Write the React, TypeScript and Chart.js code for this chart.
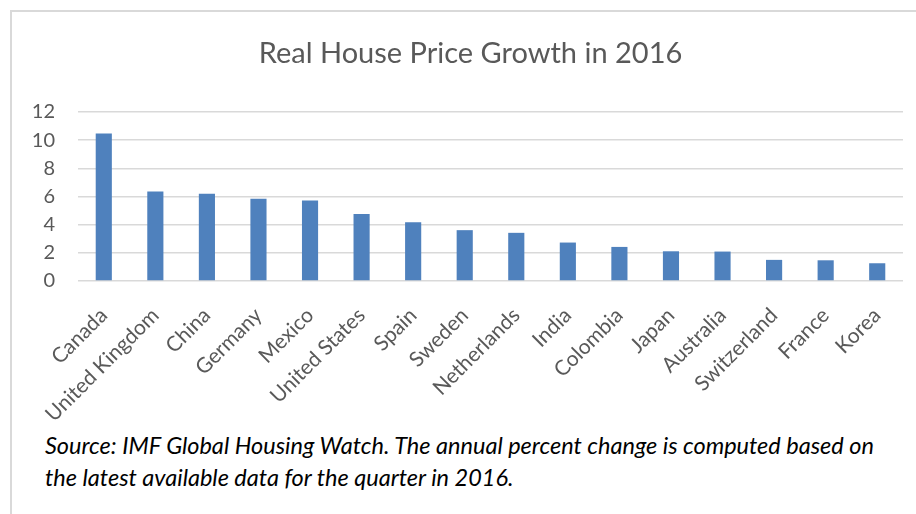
import React, { useEffect, useRef } from "react";
import { Chart, registerables } from "chart.js";

Chart.register(...registerables);

const categories = [
  "Canada", "United Kingdom", "China", "Germany", "Mexico", "United States",
  "Spain", "Sweden", "Netherlands", "India", "Colombia", "Japan",
  "Australia", "Switzerland", "France", "Korea",
];
const growth = [10.48, 6.36, 6.2, 5.84, 5.72, 4.75, 4.18, 3.61, 3.42, 2.73, 2.42, 2.11, 2.09, 1.5, 1.47, 1.26];
const yTicks = [0, 2, 4, 6, 8, 10, 12];
const titleText = "Real House Price Growth in 2016";
const sourceLines = [
  "Source: IMF Global Housing Watch. The annual percent change is computed based on",
  "the latest available data for the quarter in 2016.",
];

const FONT = "Lato, 'Open Sans', sans-serif";

export default function App() {
  const ref = useRef<HTMLCanvasElement | null>(null);

  useEffect(() => {
    document.body.style.margin = "0";
    const canvas = ref.current;
    if (!canvas) return;
    const chart = new Chart(canvas, {
      type: "bar",
      data: {
        labels: categories,
        datasets: [
          {
            data: growth,
            backgroundColor: "#4F81BD",
            borderWidth: 0,
            categoryPercentage: 1,
            barPercentage: 0.313,
          },
        ],
      },
      options: {
        animation: false,
        responsive: false,
        maintainAspectRatio: false,
        layout: { padding: { left: 0, right: 13, top: 112, bottom: 0 } },
        plugins: {
          legend: { display: false },
          tooltip: { enabled: false },
          title: { display: false },
        },
        scales: {
          x: {
            grid: { display: false },
            border: { display: false },
            ticks: {
              color: "#595959",
              font: { family: FONT, size: 21 },
              minRotation: 45,
              maxRotation: 45,
              autoSkip: false,
              padding: 14,
            },
            afterFit: (s: any) => {
              s.height = 144;
            },
          },
          y: {
            min: 0,
            max: 12,
            afterBuildTicks: (s: any) => {
              s.ticks = yTicks.map((v) => ({ value: v }));
            },
            grid: { color: "#d9d9d9", lineWidth: 1.5, drawTicks: false },
            border: { display: false },
            ticks: {
              color: "#595959",
              font: { family: FONT, size: 20 },
              padding: 23,
            },
            afterFit: (s: any) => {
              s.width = 78;
            },
          },
        },
      },
    });
    return () => chart.destroy();
  }, []);

  return (
    <div style={{ position: "relative", width: 916, height: 514, overflow: "hidden", background: "#fff" }}>
      <div
        style={{
          position: "absolute",
          left: 10,
          top: 10,
          width: 940,
          height: 540,
          border: "2px solid #d9d9d9",
          boxSizing: "border-box",
        }}
      />
      <canvas ref={ref} width={916} height={425} style={{ position: "absolute", left: 0, top: 0 }} />
      <div
        style={{
          position: "absolute",
          left: 0,
          top: 34,
          width: 941,
          textAlign: "center",
          fontFamily: FONT,
          fontSize: 29,
          lineHeight: "35px",
          color: "#595959",
          whiteSpace: "nowrap",
        }}
      >
        {titleText}
      </div>
      <div
        style={{
          position: "absolute",
          left: 45,
          top: 429,
          fontFamily: FONT,
          fontStyle: "italic",
          fontSize: 23.5,
          lineHeight: "32px",
          color: "#000",
          whiteSpace: "nowrap",
        }}
      >
        {sourceLines.map((l, i) => (
          <div key={i}>{l}</div>
        ))}
      </div>
    </div>
  );
}
